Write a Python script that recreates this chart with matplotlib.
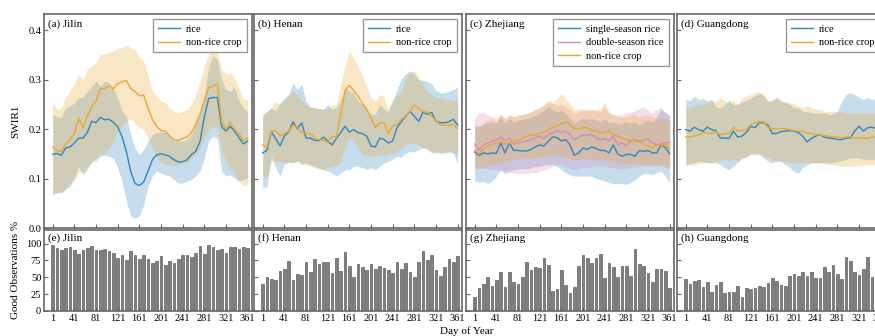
import numpy as np
import matplotlib.pyplot as plt

plt.rcParams['font.family'] = ['Liberation Serif', 'DejaVu Serif']
plt.rcParams['font.size'] = 7.5

# 8-day composites, day of year
days = np.arange(1, 362, 8)
xticks = np.arange(1, 362, 40)

# ---- (a) Jilin ----
jl_rice = [0.149, 0.151, 0.147, 0.162, 0.164, 0.172, 0.182, 0.182, 0.193, 0.216, 0.213, 0.224, 0.219, 0.220, 0.214, 0.205,
           0.185, 0.155, 0.115, 0.090, 0.086, 0.093, 0.115, 0.138, 0.148, 0.150, 0.148, 0.145, 0.138, 0.134, 0.134, 0.138,
           0.148, 0.155, 0.175, 0.225, 0.262, 0.264, 0.264, 0.205, 0.196, 0.206, 0.195, 0.183, 0.170, 0.176]
jl_rice_lo = [0.066, 0.073, 0.071, 0.078, 0.084, 0.101, 0.125, 0.108, 0.118, 0.135, 0.136, 0.145, 0.147, 0.145, 0.142, 0.122,
              0.095, 0.054, 0.024, 0.020, 0.024, 0.047, 0.084, 0.105, 0.115, 0.111, 0.108, 0.105, 0.098, 0.091, 0.091, 0.095,
              0.098, 0.105, 0.115, 0.142, 0.176, 0.186, 0.182, 0.115, 0.105, 0.108, 0.101, 0.095, 0.098, 0.101]
jl_rice_hi = [0.230, 0.226, 0.223, 0.243, 0.247, 0.253, 0.264, 0.264, 0.277, 0.287, 0.297, 0.287, 0.297, 0.294, 0.282, 0.264,
              0.236, 0.226, 0.189, 0.162, 0.149, 0.159, 0.176, 0.189, 0.193, 0.194, 0.193, 0.186, 0.179, 0.176, 0.176, 0.179,
              0.189, 0.209, 0.233, 0.270, 0.324, 0.348, 0.341, 0.301, 0.280, 0.277, 0.284, 0.257, 0.243, 0.236]
jl_other = [0.164, 0.157, 0.155, 0.170, 0.179, 0.191, 0.222, 0.203, 0.226, 0.245, 0.257, 0.282, 0.282, 0.287, 0.282, 0.292,
            0.296, 0.299, 0.282, 0.276, 0.267, 0.269, 0.243, 0.220, 0.206, 0.197, 0.196, 0.186, 0.179, 0.177, 0.181, 0.184,
            0.193, 0.209, 0.230, 0.257, 0.284, 0.287, 0.292, 0.215, 0.199, 0.213, 0.199, 0.191, 0.176, 0.182]
jl_other_lo = [0.071, 0.069, 0.074, 0.081, 0.091, 0.098, 0.111, 0.115, 0.125, 0.132, 0.142, 0.149, 0.152, 0.162, 0.176, 0.193,
               0.206, 0.216, 0.220, 0.213, 0.204, 0.199, 0.182, 0.162, 0.142, 0.132, 0.130, 0.128, 0.128, 0.128, 0.130, 0.132,
               0.139, 0.149, 0.162, 0.182, 0.199, 0.206, 0.203, 0.155, 0.135, 0.122, 0.108, 0.095, 0.086, 0.088]
jl_other_hi = [0.257, 0.240, 0.242, 0.264, 0.278, 0.291, 0.311, 0.301, 0.321, 0.328, 0.334, 0.350, 0.353, 0.355, 0.358, 0.364,
               0.365, 0.370, 0.365, 0.361, 0.345, 0.338, 0.311, 0.277, 0.267, 0.257, 0.253, 0.243, 0.236, 0.233, 0.236, 0.240,
               0.250, 0.270, 0.297, 0.328, 0.351, 0.359, 0.355, 0.321, 0.312, 0.314, 0.304, 0.284, 0.260, 0.260]

# ---- (b) Henan ----
hn_rice = [0.152, 0.157, 0.195, 0.181, 0.166, 0.186, 0.194, 0.215, 0.201, 0.213, 0.182, 0.182, 0.177, 0.177, 0.184, 0.176,
           0.168, 0.181, 0.193, 0.206, 0.194, 0.199, 0.193, 0.191, 0.186, 0.166, 0.164, 0.182, 0.179, 0.172, 0.176, 0.203,
           0.215, 0.226, 0.236, 0.226, 0.216, 0.234, 0.230, 0.234, 0.216, 0.213, 0.213, 0.215, 0.220, 0.208]
hn_rice_lo = [0.081, 0.084, 0.145, 0.122, 0.105, 0.130, 0.132, 0.132, 0.135, 0.128, 0.132, 0.128, 0.125, 0.122, 0.118, 0.115,
              0.111, 0.105, 0.111, 0.118, 0.118, 0.125, 0.125, 0.122, 0.118, 0.122, 0.118, 0.125, 0.132, 0.135, 0.139, 0.145,
              0.143, 0.152, 0.155, 0.154, 0.159, 0.162, 0.161, 0.152, 0.152, 0.152, 0.152, 0.155, 0.152, 0.130]
hn_rice_hi = [0.226, 0.236, 0.243, 0.236, 0.253, 0.262, 0.270, 0.294, 0.280, 0.291, 0.257, 0.245, 0.243, 0.242, 0.240, 0.250,
              0.240, 0.245, 0.257, 0.285, 0.277, 0.274, 0.257, 0.250, 0.243, 0.230, 0.230, 0.250, 0.240, 0.236, 0.257, 0.280,
              0.301, 0.312, 0.318, 0.311, 0.299, 0.299, 0.297, 0.291, 0.278, 0.274, 0.274, 0.277, 0.280, 0.285]
hn_other = [0.168, 0.164, 0.196, 0.197, 0.187, 0.191, 0.195, 0.208, 0.204, 0.193, 0.191, 0.191, 0.182, 0.179, 0.177, 0.174,
            0.186, 0.184, 0.230, 0.278, 0.289, 0.278, 0.267, 0.253, 0.240, 0.222, 0.203, 0.213, 0.213, 0.191, 0.206, 0.209,
            0.220, 0.226, 0.236, 0.249, 0.242, 0.235, 0.235, 0.226, 0.218, 0.208, 0.208, 0.208, 0.209, 0.201]
hn_other_lo = [0.105, 0.101, 0.135, 0.134, 0.135, 0.132, 0.135, 0.132, 0.135, 0.132, 0.128, 0.125, 0.122, 0.118, 0.118, 0.122,
               0.125, 0.125, 0.135, 0.166, 0.182, 0.176, 0.162, 0.149, 0.147, 0.145, 0.145, 0.149, 0.147, 0.149, 0.152, 0.155,
               0.162, 0.169, 0.172, 0.172, 0.169, 0.162, 0.159, 0.155, 0.155, 0.152, 0.152, 0.152, 0.152, 0.150]
hn_other_hi = [0.230, 0.236, 0.243, 0.257, 0.250, 0.260, 0.270, 0.277, 0.270, 0.257, 0.250, 0.243, 0.245, 0.240, 0.242, 0.240,
               0.250, 0.249, 0.291, 0.328, 0.358, 0.345, 0.328, 0.307, 0.287, 0.264, 0.257, 0.270, 0.267, 0.240, 0.260, 0.267,
               0.277, 0.303, 0.314, 0.318, 0.307, 0.291, 0.277, 0.269, 0.264, 0.264, 0.262, 0.260, 0.258, 0.257]

# ---- (c) Zhejiang ----
zj_single = [0.154, 0.147, 0.152, 0.150, 0.152, 0.151, 0.172, 0.152, 0.172, 0.157, 0.157, 0.156, 0.156, 0.159, 0.164, 0.168,
             0.166, 0.176, 0.184, 0.183, 0.176, 0.179, 0.168, 0.147, 0.152, 0.162, 0.159, 0.164, 0.161, 0.157, 0.157, 0.152,
             0.168, 0.150, 0.145, 0.149, 0.149, 0.145, 0.157, 0.155, 0.157, 0.152, 0.152, 0.168, 0.163, 0.150]
zj_single_lo = [0.095, 0.092, 0.095, 0.090, 0.095, 0.105, 0.118, 0.110, 0.115, 0.118, 0.120, 0.120, 0.120, 0.122, 0.125, 0.125,
                0.128, 0.128, 0.128, 0.125, 0.118, 0.112, 0.108, 0.105, 0.105, 0.105, 0.105, 0.105, 0.100, 0.098, 0.095, 0.092,
                0.090, 0.090, 0.090, 0.088, 0.092, 0.098, 0.105, 0.110, 0.110, 0.108, 0.112, 0.115, 0.105, 0.090]
zj_single_hi = [0.205, 0.205, 0.210, 0.212, 0.215, 0.212, 0.225, 0.212, 0.222, 0.215, 0.218, 0.220, 0.222, 0.225, 0.228, 0.232,
                0.238, 0.245, 0.240, 0.235, 0.238, 0.232, 0.222, 0.212, 0.218, 0.222, 0.220, 0.222, 0.218, 0.215, 0.222, 0.212,
                0.215, 0.210, 0.212, 0.215, 0.212, 0.215, 0.210, 0.215, 0.218, 0.215, 0.225, 0.240, 0.235, 0.225]
zj_double = [0.170, 0.157, 0.168, 0.172, 0.176, 0.178, 0.184, 0.176, 0.182, 0.170, 0.172, 0.174, 0.176, 0.179, 0.182, 0.186,
             0.181, 0.189, 0.193, 0.197, 0.193, 0.196, 0.189, 0.179, 0.184, 0.188, 0.188, 0.189, 0.182, 0.179, 0.181, 0.176,
             0.186, 0.169, 0.172, 0.167, 0.176, 0.179, 0.176, 0.177, 0.181, 0.172, 0.169, 0.170, 0.172, 0.174]
zj_double_lo = [0.125, 0.120, 0.122, 0.120, 0.118, 0.118, 0.115, 0.115, 0.112, 0.112, 0.110, 0.110, 0.110, 0.112, 0.112, 0.115,
                0.118, 0.120, 0.125, 0.128, 0.128, 0.125, 0.120, 0.118, 0.120, 0.122, 0.122, 0.125, 0.125, 0.125, 0.125, 0.122,
                0.122, 0.120, 0.120, 0.120, 0.122, 0.125, 0.125, 0.125, 0.125, 0.125, 0.128, 0.128, 0.125, 0.122]
zj_double_hi = [0.222, 0.232, 0.235, 0.228, 0.225, 0.222, 0.228, 0.220, 0.228, 0.225, 0.228, 0.230, 0.232, 0.235, 0.240, 0.242,
                0.248, 0.255, 0.252, 0.248, 0.250, 0.245, 0.240, 0.232, 0.235, 0.238, 0.238, 0.240, 0.238, 0.235, 0.245, 0.232,
                0.230, 0.228, 0.230, 0.232, 0.235, 0.238, 0.242, 0.245, 0.238, 0.232, 0.240, 0.245, 0.232, 0.230]
zj_other = [0.157, 0.150, 0.159, 0.166, 0.169, 0.172, 0.174, 0.170, 0.172, 0.176, 0.177, 0.181, 0.186, 0.188, 0.189, 0.193,
            0.193, 0.199, 0.204, 0.206, 0.211, 0.215, 0.208, 0.201, 0.201, 0.203, 0.203, 0.197, 0.196, 0.193, 0.193, 0.197,
            0.189, 0.186, 0.182, 0.179, 0.177, 0.176, 0.174, 0.170, 0.166, 0.162, 0.168, 0.168, 0.170, 0.160]
zj_other_lo = [0.118, 0.120, 0.122, 0.125, 0.128, 0.130, 0.132, 0.135, 0.135, 0.138, 0.140, 0.140, 0.142, 0.142, 0.142, 0.143,
               0.145, 0.145, 0.148, 0.148, 0.145, 0.142, 0.140, 0.138, 0.138, 0.140, 0.140, 0.140, 0.138, 0.138, 0.138, 0.135,
               0.135, 0.132, 0.132, 0.130, 0.130, 0.130, 0.130, 0.128, 0.128, 0.128, 0.125, 0.125, 0.122, 0.120]
zj_other_hi = [0.212, 0.205, 0.212, 0.218, 0.222, 0.215, 0.232, 0.222, 0.230, 0.225, 0.228, 0.230, 0.232, 0.235, 0.240, 0.245,
               0.250, 0.258, 0.255, 0.262, 0.272, 0.262, 0.250, 0.238, 0.240, 0.242, 0.240, 0.238, 0.240, 0.240, 0.255, 0.235,
               0.228, 0.225, 0.225, 0.225, 0.228, 0.230, 0.225, 0.228, 0.228, 0.225, 0.222, 0.225, 0.222, 0.218]

# ---- (d) Guangdong ----
gd_rice = [0.199, 0.196, 0.204, 0.199, 0.196, 0.204, 0.199, 0.197, 0.182, 0.182, 0.181, 0.196, 0.184, 0.186, 0.193, 0.206,
           0.203, 0.213, 0.213, 0.208, 0.191, 0.191, 0.195, 0.196, 0.197, 0.196, 0.193, 0.186, 0.174, 0.181, 0.186, 0.189,
           0.184, 0.182, 0.181, 0.179, 0.179, 0.182, 0.182, 0.196, 0.206, 0.196, 0.203, 0.204, 0.201, 0.199]
gd_rice_lo = [0.128, 0.130, 0.132, 0.135, 0.134, 0.132, 0.132, 0.132, 0.128, 0.122, 0.118, 0.125, 0.132, 0.141, 0.143, 0.149,
              0.152, 0.149, 0.142, 0.135, 0.132, 0.135, 0.135, 0.128, 0.123, 0.114, 0.111, 0.122, 0.128, 0.132, 0.132, 0.132,
              0.132, 0.132, 0.132, 0.135, 0.136, 0.139, 0.142, 0.142, 0.142, 0.139, 0.139, 0.139, 0.139, 0.139]
gd_rice_hi = [0.260, 0.258, 0.267, 0.260, 0.262, 0.257, 0.260, 0.245, 0.243, 0.249, 0.260, 0.249, 0.250, 0.255, 0.258, 0.262,
              0.268, 0.272, 0.267, 0.257, 0.257, 0.265, 0.258, 0.253, 0.250, 0.243, 0.243, 0.236, 0.236, 0.233, 0.233, 0.233,
              0.233, 0.230, 0.231, 0.236, 0.257, 0.270, 0.274, 0.270, 0.264, 0.260, 0.264, 0.260, 0.264, 0.264]
gd_other = [0.184, 0.184, 0.186, 0.188, 0.193, 0.193, 0.191, 0.195, 0.188, 0.191, 0.191, 0.204, 0.196, 0.197, 0.199, 0.209,
            0.213, 0.215, 0.215, 0.203, 0.201, 0.201, 0.201, 0.201, 0.199, 0.197, 0.196, 0.195, 0.193, 0.191, 0.189, 0.188,
            0.187, 0.186, 0.184, 0.184, 0.182, 0.184, 0.184, 0.182, 0.182, 0.182, 0.181, 0.184, 0.184, 0.182]
gd_other_lo = [0.125, 0.128, 0.127, 0.130, 0.132, 0.132, 0.132, 0.135, 0.136, 0.139, 0.136, 0.139, 0.136, 0.142, 0.145, 0.149,
               0.147, 0.150, 0.145, 0.142, 0.139, 0.136, 0.135, 0.134, 0.132, 0.132, 0.132, 0.132, 0.132, 0.132, 0.132, 0.132,
               0.130, 0.128, 0.128, 0.127, 0.125, 0.125, 0.125, 0.125, 0.126, 0.127, 0.128, 0.128, 0.128, 0.128]
gd_other_hi = [0.243, 0.245, 0.247, 0.250, 0.250, 0.253, 0.257, 0.257, 0.264, 0.257, 0.250, 0.260, 0.250, 0.264, 0.267, 0.270,
               0.274, 0.277, 0.270, 0.257, 0.260, 0.264, 0.253, 0.257, 0.253, 0.251, 0.247, 0.243, 0.247, 0.245, 0.240, 0.240,
               0.236, 0.236, 0.236, 0.236, 0.235, 0.233, 0.233, 0.231, 0.233, 0.233, 0.233, 0.233, 0.233, 0.233]

# ---- good observations (%) ----
jl_obs = [97.5, 93.5, 91, 93.5, 95.5, 90.5, 85, 90.5, 93.5, 96.5, 91, 90.5, 92.5, 88.5, 86, 78.5, 83.5, 76, 89, 82.5,
          77, 82.5, 77, 71, 73.5, 81, 67.5, 73.5, 71, 77, 82.5, 82.5, 79.5, 86, 97, 85, 97.5, 95, 90, 92.5,
          86.5, 95.5, 95.5, 92, 94.5, 93.5]
hn_obs = [39.5, 51, 47, 46, 59.5, 62.5, 73.5, 46, 54.5, 53.5, 72.5, 57.5, 77.5, 69.5, 72.5, 72, 57, 78.5, 60, 87.5,
          66.5, 51, 69.5, 65, 61, 69.5, 62, 66.5, 63.5, 61, 57, 72, 62.5, 70.5, 57.5, 50.5, 73, 88.5, 75, 82.5,
          60.5, 52, 65, 77, 72.5, 81]
zj_obs = [21, 34.5, 39.5, 51, 37.5, 46, 58.5, 36, 58.5, 42.5, 39.5, 50.5, 72.5, 60.5, 65.5, 63.5, 79, 67.5, 29.5, 33,
          61, 38.5, 26, 35.5, 66, 83.5, 78, 71, 78.5, 85, 48.5, 71, 65, 50, 66, 66, 52.5, 92, 69.5, 67,
          57, 43.5, 62, 62, 60, 33.5]
gd_obs = [47, 39.5, 45, 46.5, 36, 42.5, 28.5, 39, 43.5, 26, 28.5, 28, 37, 21, 34, 33, 34.5, 37.5, 35.5, 41,
          48.5, 44.5, 38.5, 37.5, 52.5, 55, 51.5, 58.5, 52, 57.5, 49.5, 49.5, 65.5, 58.5, 67.5, 54.5, 47.5, 80, 74.5, 57.5,
          53, 62.5, 79.5, 50, 52.5, 50]

BLUE = '#2f86c0'
ORANGE = '#eaa72e'
PINK = '#d98ab3'
EDGE = '#666666'

panels = [
    ('(a) Jilin', '(e) Jilin', jl_obs,
     [(jl_rice, jl_rice_lo, jl_rice_hi, BLUE, 'rice'),
      (jl_other, jl_other_lo, jl_other_hi, ORANGE, 'non-rice crop')]),
    ('(b) Henan', '(f) Henan', hn_obs,
     [(hn_rice, hn_rice_lo, hn_rice_hi, BLUE, 'rice'),
      (hn_other, hn_other_lo, hn_other_hi, ORANGE, 'non-rice crop')]),
    ('(c) Zhejiang', '(g) Zhejiang', zj_obs,
     [(zj_single, zj_single_lo, zj_single_hi, BLUE, 'single-season rice'),
      (zj_double, zj_double_lo, zj_double_hi, PINK, 'double-season rice'),
      (zj_other, zj_other_lo, zj_other_hi, ORANGE, 'non-rice crop')]),
    ('(d) Guangdong', '(h) Guangdong', gd_obs,
     [(gd_rice, gd_rice_lo, gd_rice_hi, BLUE, 'rice'),
      (gd_other, gd_other_lo, gd_other_hi, ORANGE, 'non-rice crop')]),
]

fig = plt.figure(figsize=(8.75, 3.36), dpi=100)
lefts = [44, 254, 466, 677]
W, H = 875.0, 336.0


def style(ax):
    for sp in ax.spines.values():
        sp.set_color(EDGE)
        sp.set_linewidth(1.2)
    ax.tick_params(direction='in', length=3, width=0.8, color=EDGE, labelsize=7.5, pad=2)
    ax.set_xlim(-15, 369)
    ax.set_xticks(xticks)


for i, (top_lbl, bot_lbl, obs, series) in enumerate(panels):
    x0 = lefts[i] / W
    ax = fig.add_axes([x0, 1 - 228 / H, 208 / W, 214 / H])
    axb = fig.add_axes([x0, 1 - 311 / H, 208 / W, 81 / H])

    # SWIR1 mean with spread band
    for mean, lo, hi, c, name in series:
        ax.fill_between(days, lo, hi, color=c, alpha=0.28, lw=0)
    for mean, lo, hi, c, name in series:
        ax.plot(days, mean, color=c, lw=1.0, label=name)
    style(ax)
    ax.set_ylim(0, 0.433)
    ax.set_yticks([0.0, 0.1, 0.2, 0.3, 0.4])
    ax.set_xticklabels([])
    ax.text(0.02, 0.975, top_lbl, transform=ax.transAxes, va='top', ha='left', fontsize=8)
    ax.legend(loc='upper right', fancybox=False, edgecolor='#999999', framealpha=1,
              fontsize=7.5, handlelength=2.1, handletextpad=0.6, labelspacing=0.4, borderpad=0.5)

    # percentage of good observations
    axb.bar(days, obs, width=5.5, color='#808080', edgecolor='#5e5e5e', linewidth=0.5)
    style(axb)
    axb.set_ylim(0, 120)
    axb.set_yticks([0, 25, 50, 75, 100])
    axb.set_xticklabels([str(t) for t in xticks])
    axb.text(0.02, 0.96, bot_lbl, transform=axb.transAxes, va='top', ha='left', fontsize=8)

    if i == 0:
        ax.set_yticklabels(['0.0', '0.1', '0.2', '0.3', '0.4'])
    else:
        ax.set_yticklabels([])
        axb.set_yticklabels([])

fig.text(0.018, 1 - 121 / H, 'SWIR1', rotation=90, va='center', ha='center', fontsize=8)
fig.text(0.018, 1 - 270 / H, 'Good Observations %', rotation=90, va='center', ha='center', fontsize=8)
fig.text(0.533, 1 - 331 / H, 'Day of Year', va='center', ha='center', fontsize=8)

fig.savefig('out.png', dpi=100)
